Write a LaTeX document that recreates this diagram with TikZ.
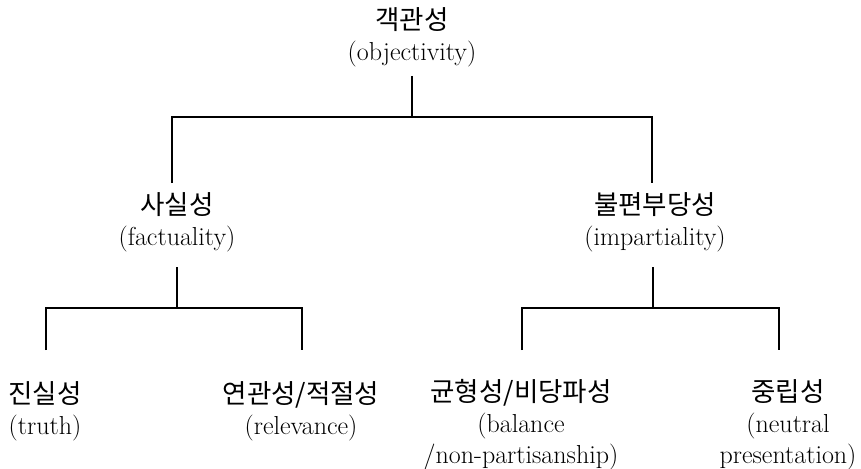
\documentclass[tikz,border=0pt]{standalone}
\usepackage{fontspec}
\newfontfamily\kr{Noto Sans CJK KR}[Scale=1.02]
\begin{document}
\begin{tikzpicture}[x=1pt,y=-1pt,
  lbl/.style={align=center,inner sep=0pt,font=\fontsize{26}{31}\selectfont},
  link/.style={line width=1.6pt,line cap=butt,line join=miter}]
\useasboundingbox (0,0) rectangle (861,468);
% nodes
\node[lbl] (root) at (412,37.5) {{\kr 객관성}\\(objectivity)};
\node[lbl] (fact) at (177,222) {{\kr 사실성}\\(factuality)};
\node[lbl] (imp)  at (655,222) {{\kr 불편부당성}\\(impartiality)};
\node[lbl] (truth) at (45,411) {{\kr 진실성}\\(truth)};
\node[lbl] (rel) at (301,411) {{\kr 연관성/적절성}\\(relevance)};
\node[lbl] (bal) at (521,424.5) {{\kr 균형성/비당파성}\\(balance\\/non-partisanship)};
\node[lbl] (neu) at (788,424.5) {{\kr 중립성}\\(neutral\\presentation)};
% junction coordinates
\coordinate (r0) at (412,76);
\coordinate (r1) at (412,117);
\coordinate (rl) at (172,183);
\coordinate (rr) at (652,183);
\coordinate (f0) at (177,267);
\coordinate (f1) at (177,308);
\coordinate (fl) at (46,350);
\coordinate (fr) at (302,350);
\coordinate (i0) at (653,267);
\coordinate (i1) at (653,308);
\coordinate (il) at (522,350);
\coordinate (ir) at (779,350);
% connectors
\draw[link] (r0) -- (r1);
\draw[link] (rl) |- (r1) -| (rr);
\draw[link] (f0) -- (f1);
\draw[link] (fl) |- (f1) -| (fr);
\draw[link] (i0) -- (i1);
\draw[link] (il) |- (i1) -| (ir);
\end{tikzpicture}
\end{document}
